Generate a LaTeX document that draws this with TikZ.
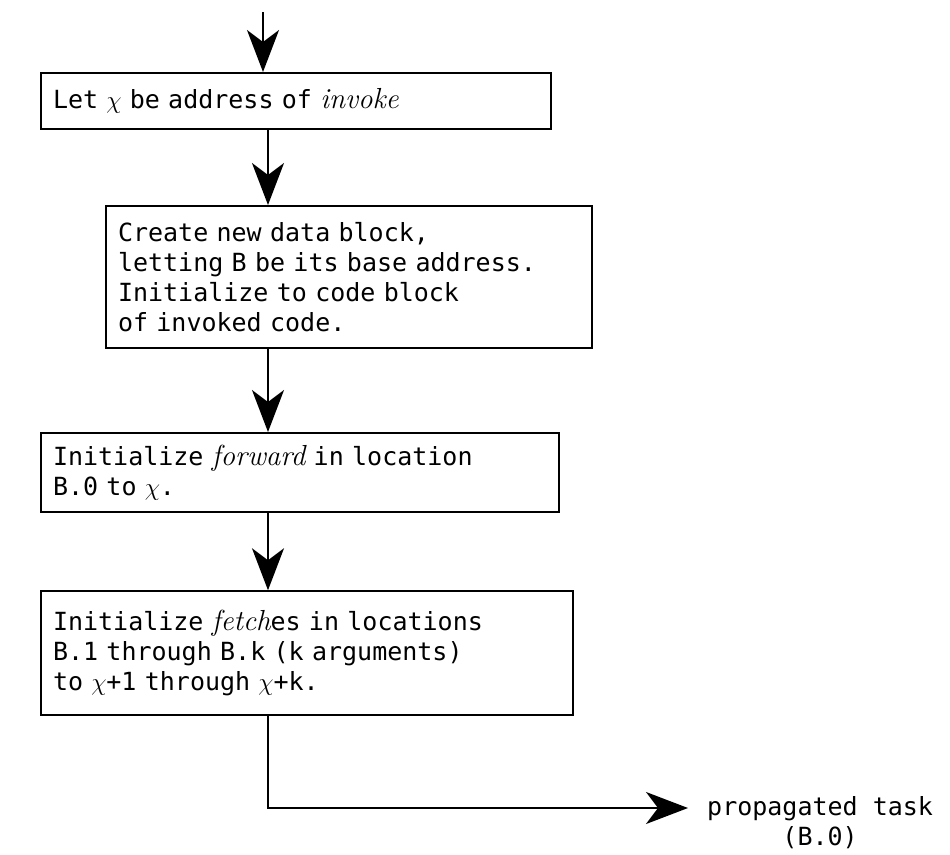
\documentclass[tikz,border=0pt]{standalone}
\usepackage{fontspec}
\setmonofont{DejaVu Sans Mono}[WordSpace={1,0,0}]
\usetikzlibrary{positioning, arrows.meta}

% chi con el ancho de una letra de la maquina
\newcommand{\xchi}{\makebox[0.6em]{$\chi$}}
\newcommand{\cursiva}[1]{{\rmfamily\itshape\fontsize{29}{30}\selectfont #1}}

\begin{document}
\begin{tikzpicture}[
		x=1pt, y=1pt,
		% Estilos de bloques
		caja/.style={draw=black, line width=2pt, rectangle, inner sep=12pt, anchor=north west, align=left, font=\ttfamily\fontsize{25}{30}\selectfont},
		% Estilo de flechas y etiquetas
		flecha/.style={-{Stealth[length=42pt, width=32pt, inset=12pt]}, line width=2pt, draw=black},
		nota/.style={font=\ttfamily\fontsize{25}{30}\selectfont, align=center, inner sep=0pt}
		]
		\useasboundingbox (0,0) rectangle (950,-854);
		
		% --- BLOQUES DEL FLUJO ---
		\node[caja, text width=486pt, minimum height=56pt] (invoke) at (40,-72) {Let \xchi{} be address of \cursiva{invoke}};
		\node[caja, text width=462pt, minimum height=142pt] (bloque) at ([xshift=65pt, yshift=-75pt]invoke.south west) {Create new data block,\\letting B be its base address.\\Initialize to code block\\of invoked code.};
		\node[caja, text width=494pt, minimum height=78pt] (forward) at ([xshift=-65pt, yshift=-83pt]bloque.south west) {Initialize \cursiva{forward} in location\\B.0 to \xchi.};
		\node[caja, text width=508pt, minimum height=124pt] (fetch) at ([yshift=-77pt]forward.south west) {Initialize \cursiva{fetch}es in locations\\B.1 through B.k (k arguments)\\to \xchi+1 through \xchi+k.};
		
		% Salida hacia la tarea propagada
		\node[nota, anchor=north west] (tarea) at (707,-796) {propagated task\\(B.0)};
		
		% --- PUNTOS AUXILIARES ---
		\coordinate (entrada) at (263,-12);
		\coordinate (eje) at (268,0);
		\coordinate (salida) at ([xshift=-19pt, yshift=-12pt]tarea.north west);
		
		% --- CONEXIONES ---
		\draw[flecha] (entrada) -- (invoke.north -| entrada);
		\draw[flecha] (invoke.south -| eje) -- (bloque.north -| eje);
		\draw[flecha] (bloque.south -| eje) -- (forward.north -| eje);
		\draw[flecha] (forward.south -| eje) -- (fetch.north -| eje);
		\draw[flecha] (fetch.south -| eje) |- (salida);
		
	\end{tikzpicture}
\end{document}
